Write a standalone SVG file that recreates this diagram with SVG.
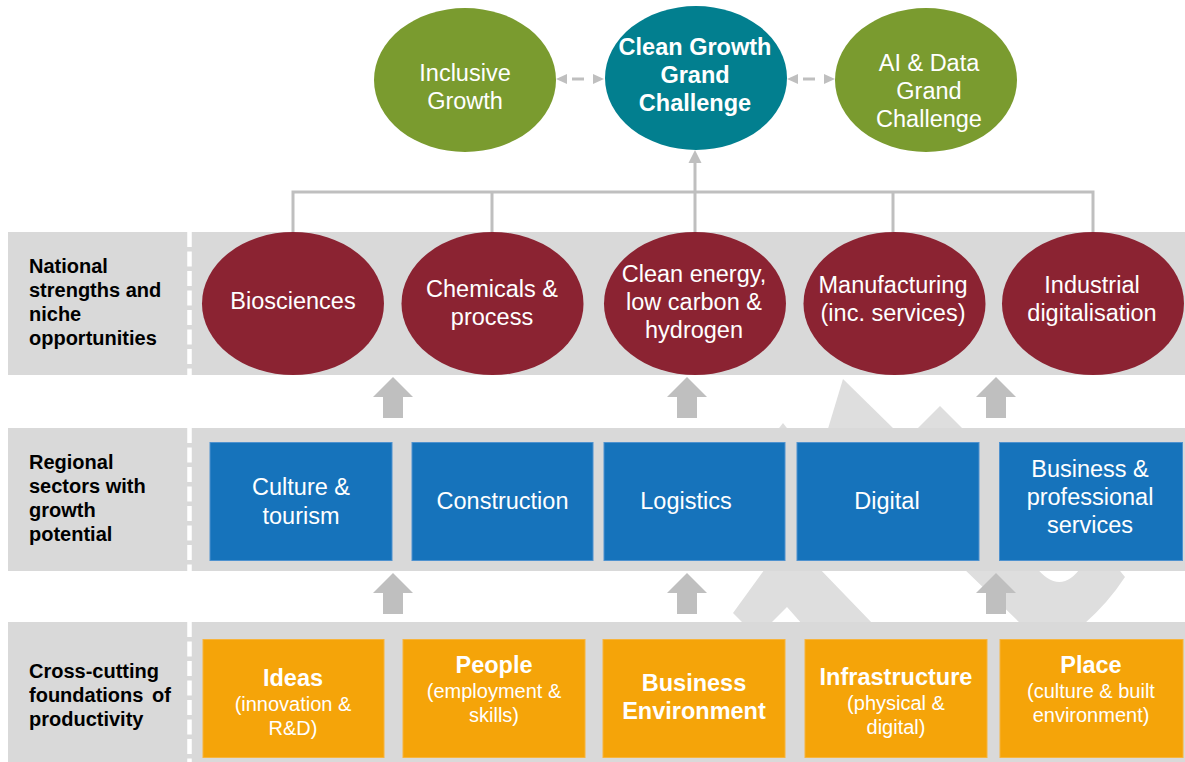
<svg xmlns="http://www.w3.org/2000/svg" width="1185" height="762" viewBox="0 0 1185 762">
  <style>
    .band { fill: #d9d9d9; }
    .divider { stroke: #ffffff; stroke-width: 4.5; stroke-dasharray: 15 4.5; fill: none; }
    .mark { fill: #dedede; }
    .lbl { font-family: "Liberation Sans", Arial, sans-serif; font-weight: bold; font-size: 20px; fill: #000000; }
    .t { font-family: "Liberation Sans", Arial, sans-serif; font-size: 23.5px; fill: #ffffff; text-anchor: middle; }
    .tb { font-family: "Liberation Sans", Arial, sans-serif; font-size: 23.5px; font-weight: bold; fill: #ffffff; text-anchor: middle; }
    .ts { font-family: "Liberation Sans", Arial, sans-serif; font-size: 20px; fill: #ffffff; text-anchor: middle; }
    .green { fill: #7a9b2f; }
    .teal { fill: #027f8f; }
    .maroon { fill: #8b2332; }
    .blue { fill: #1673bb; stroke: #4f92cf; stroke-width: 1; }
    .orange { fill: #f5a409; stroke: #f7b43c; stroke-width: 1; }
    .conn { stroke: #bfbfbf; stroke-width: 3; fill: none; }
    .fill-grey { fill: #bfbfbf; }
  </style>
  <defs>
    <path id="upArrow" d="M0,0 L20,20 L10,20 L10,41 L-10,41 L-10,20 L-20,20 Z"/>
  </defs>

  <rect width="1185" height="762" fill="#ffffff"/>

  <!-- faint background logo, visible between the bands -->
  <g id="background-mark">
    <polygon class="mark" points="843,379 897,432 827,432"/>
    <polygon class="mark" points="940,406 966,432 914,432"/>
    <polygon class="mark" points="783,423 776,432 790,432"/>
    <polygon class="mark" points="767,566 817,566 873,624 802,624 787,607 770,624 744,624 733,613"/>
    <path class="mark" d="M961,566 L1035,566 Q1060,598 1082,566 L1116,566 L1125,577 Q1108,603 1084,624 L1021,624 Z"/>
  </g>

  <!-- row bands -->
  <g id="bands">
    <rect class="band" x="8" y="232" width="1177" height="143"/>
    <rect class="band" x="8" y="428" width="1177" height="143"/>
    <rect class="band" x="8" y="622" width="1177" height="140"/>
    <line class="divider" x1="189.5" y1="232" x2="189.5" y2="375"/>
    <line class="divider" x1="189.5" y1="428" x2="189.5" y2="571"/>
    <line class="divider" x1="189.5" y1="622" x2="189.5" y2="762"/>
  </g>

  <!-- row labels -->
  <g id="label-national">
    <text class="lbl" x="29" y="273">National</text>
    <text class="lbl" x="29" y="297">strengths and</text>
    <text class="lbl" x="29" y="321">niche</text>
    <text class="lbl" x="29" y="345">opportunities</text>
  </g>
  <g id="label-regional">
    <text class="lbl" x="29" y="469">Regional</text>
    <text class="lbl" x="29" y="493">sectors with</text>
    <text class="lbl" x="29" y="517">growth</text>
    <text class="lbl" x="29" y="541">potential</text>
  </g>
  <g id="label-foundations">
    <text class="lbl" x="29" y="678">Cross-cutting</text>
    <text class="lbl" x="29" y="702" word-spacing="3">foundations of</text>
    <text class="lbl" x="29" y="726">productivity</text>
  </g>

  <!-- connectors -->
  <g id="connectors">
    <polyline class="conn" points="293,234 293,192 1093,192 1093,234"/>
    <line class="conn" x1="492" y1="192" x2="492" y2="234"/>
    <line class="conn" x1="893" y1="192" x2="893" y2="234"/>
    <line class="conn" x1="695" y1="234" x2="695" y2="161"/>
    <polygon class="fill-grey" points="695,150 701.5,163 688.5,163"/>

    <!-- dashed two-way links between the top circles -->
    <polygon class="fill-grey" points="556,79 567,74 567,84"/>
    <rect class="fill-grey" x="572" y="77.5" width="12" height="3"/>
    <polygon class="fill-grey" points="604,79 593,74 593,84"/>
    <polygon class="fill-grey" points="787,79 798,74 798,84"/>
    <rect class="fill-grey" x="803" y="77.5" width="12" height="3"/>
    <polygon class="fill-grey" points="835,79 824,74 824,84"/>

    <!-- block arrows between rows -->
    <use href="#upArrow" class="fill-grey" x="393" y="377"/>
    <use href="#upArrow" class="fill-grey" x="687" y="377"/>
    <use href="#upArrow" class="fill-grey" x="996" y="377"/>
    <use href="#upArrow" class="fill-grey" x="393" y="573"/>
    <use href="#upArrow" class="fill-grey" x="687" y="573"/>
    <use href="#upArrow" class="fill-grey" x="996" y="573"/>
  </g>

  <!-- top goals -->
  <g id="inclusive-growth">
    <ellipse class="green" cx="465" cy="80" rx="91" ry="72"/>
    <text class="t" x="465" y="81">Inclusive</text>
    <text class="t" x="465" y="109">Growth</text>
  </g>
  <g id="clean-growth">
    <ellipse class="teal" cx="696" cy="78" rx="91" ry="72"/>
    <text class="tb" x="695" y="55">Clean Growth</text>
    <text class="tb" x="695" y="83">Grand</text>
    <text class="tb" x="695" y="111">Challenge</text>
  </g>
  <g id="ai-data">
    <ellipse class="green" cx="926" cy="80" rx="91" ry="72"/>
    <text class="t" x="929" y="71">AI &amp; Data</text>
    <text class="t" x="929" y="99">Grand</text>
    <text class="t" x="929" y="127">Challenge</text>
  </g>

  <!-- national strengths -->
  <g id="biosciences">
    <ellipse class="maroon" cx="293" cy="303.5" rx="91" ry="71.5"/>
    <text class="t" x="293" y="309">Biosciences</text>
  </g>
  <g id="chemicals">
    <ellipse class="maroon" cx="492.5" cy="303.5" rx="91" ry="71.5"/>
    <text class="t" x="492" y="297">Chemicals &amp;</text>
    <text class="t" x="492" y="325">process</text>
  </g>
  <g id="clean-energy">
    <ellipse class="maroon" cx="695" cy="303.5" rx="91" ry="71.5"/>
    <text class="t" x="694" y="282">Clean energy,</text>
    <text class="t" x="694" y="310">low carbon &amp;</text>
    <text class="t" x="694" y="338">hydrogen</text>
  </g>
  <g id="manufacturing">
    <ellipse class="maroon" cx="894.5" cy="303.5" rx="91" ry="71.5"/>
    <text class="t" x="893" y="293">Manufacturing</text>
    <text class="t" x="893" y="321">(inc. services)</text>
  </g>
  <g id="industrial-digitalisation">
    <ellipse class="maroon" cx="1093" cy="303.5" rx="91" ry="71.5"/>
    <text class="t" x="1092" y="293">Industrial</text>
    <text class="t" x="1092" y="321">digitalisation</text>
  </g>

  <!-- regional sectors -->
  <g id="culture-tourism">
    <rect class="blue" x="210" y="442.5" width="182" height="118"/>
    <text class="t" x="301" y="495">Culture &amp;</text>
    <text class="t" x="301" y="524">tourism</text>
  </g>
  <g id="construction">
    <rect class="blue" x="412" y="442.5" width="181" height="118"/>
    <text class="t" x="502.5" y="509">Construction</text>
  </g>
  <g id="logistics">
    <rect class="blue" x="604" y="442.5" width="181" height="118"/>
    <text class="t" x="686" y="509">Logistics</text>
  </g>
  <g id="digital">
    <rect class="blue" x="797" y="442.5" width="182" height="118"/>
    <text class="t" x="887" y="509">Digital</text>
  </g>
  <g id="business-services">
    <rect class="blue" x="999.5" y="442.5" width="183" height="118"/>
    <text class="t" x="1090" y="477">Business &amp;</text>
    <text class="t" x="1090" y="505">professional</text>
    <text class="t" x="1090" y="533">services</text>
  </g>

  <!-- foundations -->
  <g id="ideas">
    <rect class="orange" x="203" y="639.5" width="181" height="118"/>
    <text class="tb" x="293" y="686">Ideas</text>
    <text class="ts" x="293" y="711">(innovation &amp;</text>
    <text class="ts" x="293" y="735">R&amp;D)</text>
  </g>
  <g id="people">
    <rect class="orange" x="403" y="639.5" width="182" height="118"/>
    <text class="tb" x="494" y="673">People</text>
    <text class="ts" x="494" y="698">(employment &amp;</text>
    <text class="ts" x="494" y="722">skills)</text>
  </g>
  <g id="business-environment">
    <rect class="orange" x="603" y="639.5" width="182" height="118"/>
    <text class="tb" x="694" y="691">Business</text>
    <text class="tb" x="694" y="719">Environment</text>
  </g>
  <g id="infrastructure">
    <rect class="orange" x="805" y="639.5" width="182" height="118"/>
    <text class="tb" x="896" y="685">Infrastructure</text>
    <text class="ts" x="896" y="710">(physical &amp;</text>
    <text class="ts" x="896" y="734">digital)</text>
  </g>
  <g id="place">
    <rect class="orange" x="1000" y="639.5" width="183" height="118"/>
    <text class="tb" x="1091" y="673">Place</text>
    <text class="ts" x="1091" y="698">(culture &amp; built</text>
    <text class="ts" x="1091" y="722">environment)</text>
  </g>
</svg>
